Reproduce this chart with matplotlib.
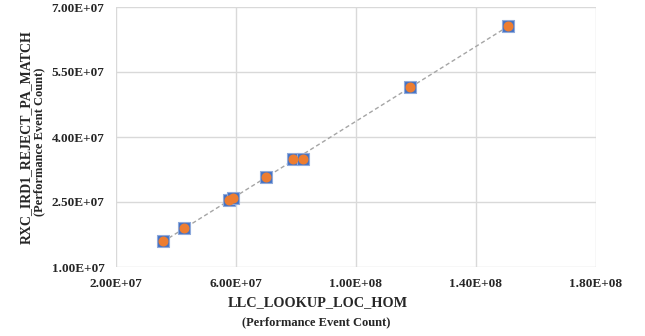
import numpy as np
import matplotlib
matplotlib.use('Agg')
import matplotlib.pyplot as plt
from matplotlib.ticker import FuncFormatter

# Data
llc_lookup = [3.58e7, 4.28e7, 5.79e7, 5.92e7, 7.01e7, 7.91e7, 8.24e7, 1.179e8, 1.508e8]
rxc_reject = [1.60e7, 1.90e7, 2.54e7, 2.60e7, 3.08e7, 3.49e7, 3.49e7, 5.15e7, 6.57e7]

x_ticks = [2e7, 6e7, 1e8, 1.4e8, 1.8e8]
y_ticks = [1e7, 2.5e7, 4e7, 5.5e7, 7e7]

plt.rcParams['font.family'] = 'Liberation Serif'
plt.rcParams['font.weight'] = 'bold'

fig = plt.figure(figsize=(6.45, 3.36), dpi=100)
ax = fig.add_axes([115.5 / 645, 1 - 267 / 336, (596 - 115.5) / 645, (267 - 7) / 336])

x = np.array(llc_lookup)
y = np.array(rxc_reject)

# Linear trendline
slope, intercept = np.polyfit(x, y, 1)
xs = np.array([x.min(), x.max()])
ax.plot(xs, slope * xs + intercept, color='#A5A5A5', linestyle=(0, (3, 2)), linewidth=1.0, zorder=2)

# Points: blue square with orange circle on top
ax.scatter(x, y, marker='s', s=64, color='#4472C4', edgecolors='#8FAADC', linewidths=0.8, zorder=3)
ax.scatter(x, y, marker='o', s=38, color='#ED7D31', zorder=4)

ax.set_xlim(2e7, 1.8e8)
ax.set_ylim(1e7, 7e7)
ax.set_xticks(x_ticks)
ax.set_yticks(y_ticks)

fmt = FuncFormatter(lambda v, p: '{:.2E}'.format(v))
ax.xaxis.set_major_formatter(fmt)
ax.yaxis.set_major_formatter(fmt)

ax.grid(True, color='#D9D9D9', linewidth=1.0)
ax.set_axisbelow(True)
for s in ax.spines.values():
    s.set_visible(False)
ax.tick_params(length=0, labelsize=9.5, pad=8, colors='#262626')
for lbl in ax.get_xticklabels() + ax.get_yticklabels():
    lbl.set_fontweight('bold')

# Axis titles
fig.text(26 / 645, 1 - 137 / 336, 'RXC_IRD1_REJECT_PA_MATCH', rotation=90,
         ha='center', va='center', fontsize=10, fontweight='bold', color='#262626')
fig.text(39.5 / 645, 1 - 142 / 336, '(Performance Event Count)', rotation=90,
         ha='center', va='center', fontsize=9, fontweight='bold', color='#262626')
fig.text(318 / 645, 1 - 303 / 336, 'LLC_LOOKUP_LOC_HOM',
         ha='center', va='center', fontsize=10.3, fontweight='bold', color='#262626')
fig.text(316 / 645, 1 - 322 / 336, '(Performance Event Count)',
         ha='center', va='center', fontsize=9, fontweight='bold', color='#262626')

fig.savefig('out.png', dpi=100)
